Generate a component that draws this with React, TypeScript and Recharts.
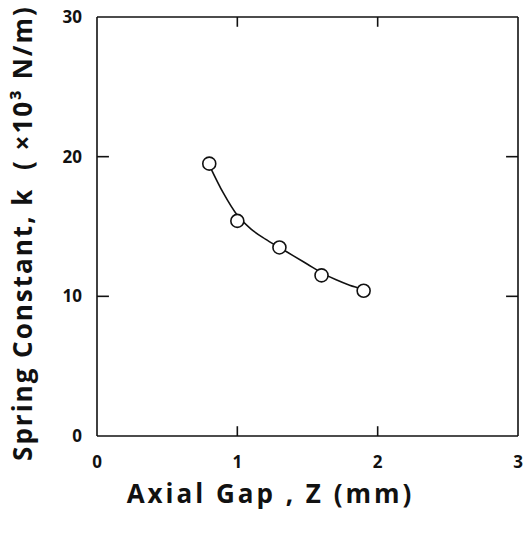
import React from 'react';
import {
  ComposedChart,
  Line,
  Scatter,
  XAxis,
  YAxis,
  Label,
  ReferenceLine,
} from 'recharts';

// measured points (open circles)
const gapMm = [0.8, 1.0, 1.3, 1.6, 1.9];
const springK = [19.5, 15.4, 13.5, 11.5, 10.4];

// fitted curve
const curveGap = [0.8, 0.9, 1.0, 1.1, 1.2, 1.3, 1.4, 1.5, 1.6, 1.7, 1.8, 1.9];
const curveK = [19.4, 17.4, 15.8, 14.8, 14.1, 13.5, 12.9, 12.3, 11.7, 11.2, 10.8, 10.5];

const xTicks = [0, 1, 2, 3];
const yTicks = [0, 10, 20, 30];
const innerXTicks = [1, 2];
const innerYTicks = [10, 20];

const X_MAX = 3;
const Y_MAX = 30;
// inner tick lengths in axis units (~10px on x, ~12px on y)
const X_TICK_LEN = 0.7;
const Y_TICK_LEN = 0.085;

const FONT = '"Open Sans", "DejaVu Sans", sans-serif';
const INK = '#111';

const points = gapMm.map((x, i) => ({ x, y: springK[i] }));
const curve = curveGap.map((x, i) => ({ x, y: curveK[i] }));

const Dot = (props: any) => {
  const { cx, cy } = props;
  if (cx == null || cy == null) return null;
  return <circle cx={cx} cy={cy} r={6.5} fill="#fff" stroke={INK} strokeWidth={1.6} />;
};

const tickStroke = { stroke: INK, strokeWidth: 1.6 };

export default function App() {
  return (
    <div style={{ position: 'absolute', left: 0, top: 0, background: '#fff' }}>
      <ComposedChart
        width={523}
        height={538}
        margin={{ top: 17, right: 5, left: 0, bottom: 0 }}
        style={{ fontFamily: FONT }}
      >
        <XAxis
          xAxisId="main"
          type="number"
          dataKey="x"
          domain={[0, X_MAX]}
          ticks={xTicks}
          tickLine={false}
          tickSize={0}
          tickMargin={20}
          height={102}
          axisLine={{ stroke: INK, strokeWidth: 1.6 }}
          tick={{ fill: INK, fontSize: 17, fontWeight: 700, fontFamily: FONT }}
        >
          <Label
            value="Axial Gap , Z (mm)"
            position="insideBottom"
            offset={35}
            dx={-37}
            style={{ fill: INK, fontSize: 26, fontWeight: 700, letterSpacing: 3, fontFamily: FONT, whiteSpace: 'pre' }}
          />
        </XAxis>
        <YAxis
          yAxisId="main"
          type="number"
          domain={[0, Y_MAX]}
          ticks={yTicks}
          tickLine={false}
          tickSize={0}
          tickMargin={15}
          width={97}
          axisLine={{ stroke: INK, strokeWidth: 1.6 }}
          tick={{ fill: INK, fontSize: 17, fontWeight: 700, fontFamily: FONT }}
        >
          <Label
            content={() => (
              <text
                x={22}
                y={233}
                transform="rotate(-90 22 233)"
                textAnchor="middle"
                dominantBaseline="central"
                style={{ fill: INK, fontSize: 26, fontWeight: 700, letterSpacing: 2, fontFamily: FONT, whiteSpace: 'pre' }}
              >
                Spring Constant, k  ( ×10³ N/m)
              </text>
            )}
          />
        </YAxis>

        {/* frame: top and right edges */}
        <ReferenceLine xAxisId="main" yAxisId="main" y={Y_MAX} {...tickStroke} />
        <ReferenceLine xAxisId="main" yAxisId="main" x={X_MAX} {...tickStroke} />

        {/* inner ticks on all four sides */}
        {innerXTicks.map((t) => (
          <ReferenceLine
            key={`b${t}`}
            xAxisId="main"
            yAxisId="main"
            segment={[{ x: t, y: 0 }, { x: t, y: X_TICK_LEN }]}
            {...tickStroke}
          />
        ))}
        {innerXTicks.map((t) => (
          <ReferenceLine
            key={`t${t}`}
            xAxisId="main"
            yAxisId="main"
            segment={[{ x: t, y: Y_MAX }, { x: t, y: Y_MAX - X_TICK_LEN }]}
            {...tickStroke}
          />
        ))}
        {innerYTicks.map((t) => (
          <ReferenceLine
            key={`l${t}`}
            xAxisId="main"
            yAxisId="main"
            segment={[{ x: 0, y: t }, { x: Y_TICK_LEN, y: t }]}
            {...tickStroke}
          />
        ))}
        {innerYTicks.map((t) => (
          <ReferenceLine
            key={`r${t}`}
            xAxisId="main"
            yAxisId="main"
            segment={[{ x: X_MAX, y: t }, { x: X_MAX - Y_TICK_LEN, y: t }]}
            {...tickStroke}
          />
        ))}

        <Line
          xAxisId="main"
          yAxisId="main"
          data={curve}
          dataKey="y"
          type="monotone"
          stroke={INK}
          strokeWidth={1.6}
          dot={false}
          activeDot={false}
          isAnimationActive={false}
        />
        <Scatter
          xAxisId="main"
          yAxisId="main"
          data={points}
          dataKey="y"
          shape={<Dot />}
          isAnimationActive={false}
        />
      </ComposedChart>
    </div>
  );
}
